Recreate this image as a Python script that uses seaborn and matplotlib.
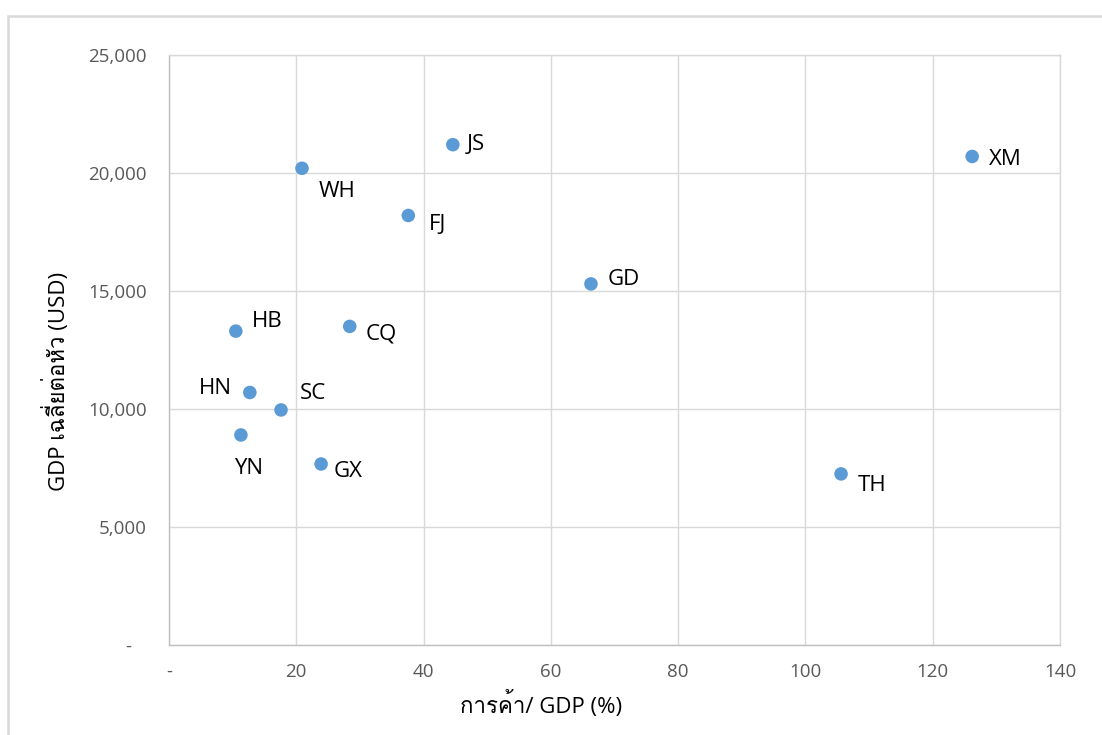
import matplotlib
matplotlib.use("Agg")
import matplotlib.pyplot as plt
import numpy as np
import pandas as pd
import seaborn as sns
from matplotlib import font_manager
from matplotlib.patches import Rectangle

# data
regions = ["JS", "WH", "FJ", "XM", "GD", "HB", "CQ", "HN", "SC", "YN", "GX", "TH"]
trade_gdp = [44.6, 20.9, 37.6, 126.2, 66.3, 10.5, 28.4, 12.7, 17.6, 11.3, 23.9, 105.6]
gdp_per_capita = [21200, 20200, 18200, 20700, 15300, 13300, 13500, 10700, 9960, 8900, 7670, 7250]

x_ticks = [0, 20, 40, 60, 80, 100, 120, 140]
x_tick_labels = ["-", "20", "40", "60", "80", "100", "120", "140"]
y_ticks = [0, 5000, 10000, 15000, 20000, 25000]
y_tick_labels = ["-   ", "5,000", "10,000", "15,000", "20,000", "25,000"]

x_title = "การค้า/ GDP (%)"
y_title = "GDP เฉลี่ยต่อหัว (USD)"

# label offsets in pixels (dx, dy, ha)
label_pos = {
    "JS": (14, 0, "left"), "WH": (17, -23, "left"), "FJ": (21, -9, "left"),
    "XM": (17, -3, "left"), "GD": (17, 4, "left"), "HB": (16, 10, "left"),
    "CQ": (16, -8, "left"), "HN": (-18, 4, "right"), "SC": (19, 16, "left"),
    "YN": (-7, -34, "left"), "GX": (13, -8, "left"), "TH": (17, -12, "left"),
}


def find_thai_family():
    """Return the first installed family that has Thai glyphs."""
    try:
        from fontTools.ttLib import TTFont
    except ImportError:
        return None
    for f in font_manager.fontManager.ttflist:
        try:
            tt = TTFont(f.fname, fontNumber=0, lazy=True)
            if 0x0E01 in tt.getBestCmap():
                return f.name
        except Exception:
            continue
    return None


sns.set_theme(style="white")
thai = find_thai_family()
families = ["Open Sans", "DejaVu Sans"]
if thai:
    families = ["Open Sans", thai, "DejaVu Sans"]
plt.rcParams["font.family"] = families

df = pd.DataFrame({"region": regions, "trade": trade_gdp, "gdp": gdp_per_capita})

fig = plt.figure(figsize=(11.02, 7.35), dpi=100)
ax = fig.add_axes([169 / 1102, 1 - 645 / 735, 891 / 1102, 590 / 735])

# outer chart border (only top and left visible in the reference)
fig.patches.append(Rectangle((8 / 1102, -0.1), 1.2, 1 - 16 / 735 + 0.1,
                             transform=fig.transFigure, fill=False,
                             edgecolor="#d9d9d9", linewidth=1.8, clip_on=False))

sns.scatterplot(data=df, x="trade", y="gdp", ax=ax, s=95, color="#5b9bd5",
                edgecolor="none", zorder=3)

for _, row in df.iterrows():
    dx, dy, ha = label_pos[row["region"]]
    ax.annotate(row["region"], (row["trade"], row["gdp"]), xytext=(dx * 0.72, dy * 0.72),
                textcoords="offset points", ha=ha, va="center", fontsize=16,
                color="#000000")

ax.set_xlim(0, 140)
ax.set_ylim(0, 25000)
ax.set_xticks(x_ticks)
ax.set_xticklabels(x_tick_labels)
ax.set_yticks(y_ticks)
ax.set_yticklabels(y_tick_labels)
ax.tick_params(axis="both", labelsize=13.5, labelcolor="#595959", length=0)
ax.tick_params(axis="x", pad=13)
ax.tick_params(axis="y", pad=16)

ax.grid(True, color="#d9d9d9", linewidth=1)
ax.set_axisbelow(True)
for side in ["top", "right"]:
    ax.spines[side].set_color("#d9d9d9")
for side in ["bottom", "left"]:
    ax.spines[side].set_color("#bfbfbf")
for sp in ax.spines.values():
    sp.set_linewidth(1)

ax.set_xlabel(x_title, fontsize=16, color="#000000")
ax.set_ylabel(y_title, fontsize=16, color="#000000")
ax.xaxis.set_label_coords((541 - 169) / 891, -(691 - 645) / 590)
ax.yaxis.set_label_coords(-(169 - 56) / 891, (645 - 381) / 590)
ax.xaxis.label.set_va("top")
ax.yaxis.label.set_va("center")

fig.savefig("out.png", dpi=100)
